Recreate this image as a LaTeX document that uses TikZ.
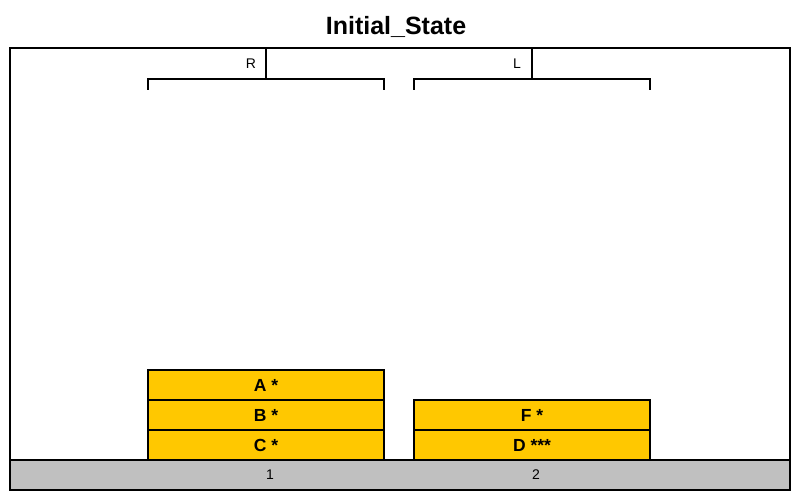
\documentclass[tikz,border=0pt]{standalone}
\usepackage{fontspec}
\setmainfont{Liberation Sans}
\definecolor{blockyellow}{RGB}{255,200,0}
\definecolor{floorgray}{RGB}{192,192,192}
\begin{document}
\begin{tikzpicture}[x=1pt,y=-1pt,line width=1.2pt,
    block/.style={draw,fill=blockyellow,minimum width=236pt,minimum height=30pt,inner sep=0pt,font=\fontsize{17.5}{17.5}\selectfont\bfseries},
    floor/.style={draw,fill=floorgray,minimum width=780pt,minimum height=30pt,inner sep=0pt},
    lbl/.style={inner sep=0pt,font=\fontsize{14}{14}\selectfont}]
    \useasboundingbox (0,0) rectangle (800,500);
    \node (title) at (396,27) [font=\fontsize{25}{25}\selectfont\bfseries] {Initial\_State};
    \draw (10,48) rectangle (790,490);

    \node (floor) at (400,475) [floor] {};
    \node (p1) at (270,475) [lbl] {1};
    \node (p2) at (536,475) [lbl] {2};

    \node (c) at (266,445) [block] {C *};
    \node (b) at (266,415) [block] {B *};
    \node (a) at (266,385) [block] {A *};
    \node (d) at (532,445) [block] {D ***};
    \node (f) at (532,415) [block] {F *};

    \coordinate (rtop) at (266,48);
    \coordinate (rmid) at (266,79);
    \coordinate (ltop) at (532,48);
    \coordinate (lmid) at (532,79);
    \node (r) at (251,64) [lbl] {R};
    \node (l) at (517,64) [lbl] {L};

    \draw (rtop) -- (rmid);
    \draw (148,90) -- (148,79) -- (384,79) -- (384,90);
    \draw (ltop) -- (lmid);
    \draw (414,90) -- (414,79) -- (650,79) -- (650,90);
\end{tikzpicture}
\end{document}
